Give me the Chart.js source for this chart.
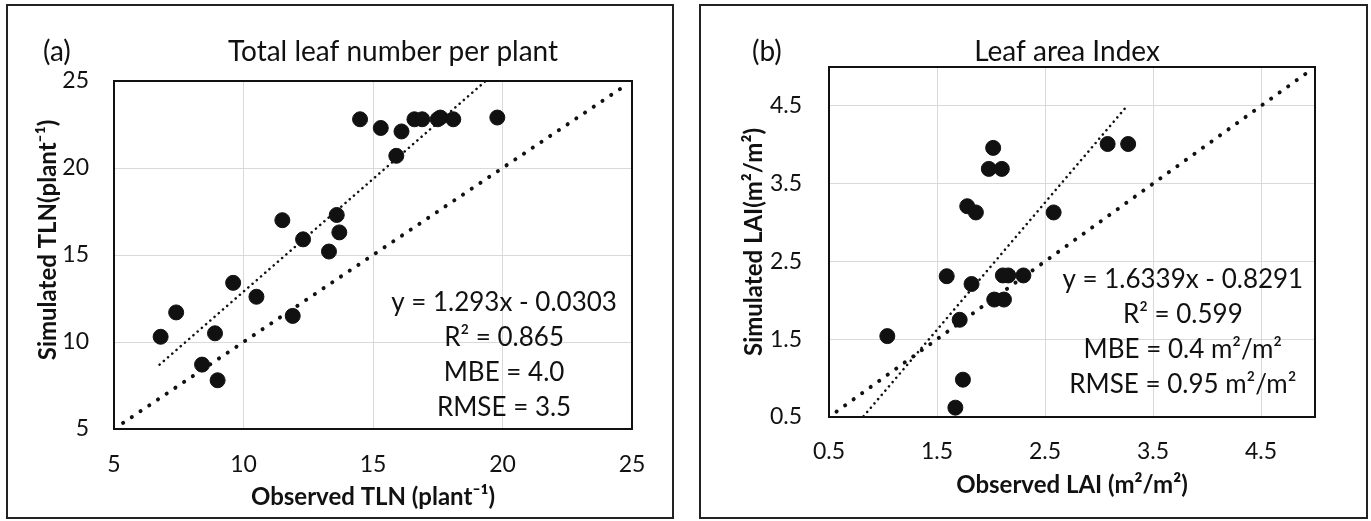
<!DOCTYPE html>
<html>
<head>
<meta charset="utf-8">
<script src="https://cdn.jsdelivr.net/npm/chart.js@4.4.1/dist/chart.umd.min.js"></script>
<style>
body { margin: 0; background: #fff; width: 1371px; height: 521px; position: relative; overflow: hidden; }
.panel { position: absolute; top: 4px; border: 2px solid #222; background: #fff; }
#pa { left: 6px; width: 664px; height: 511px; }
#pb { left: 699px; width: 665px; height: 511px; }
canvas { display: block; }
</style>
</head>
<body>
<div class="panel" id="pa"><canvas id="tln" width="664" height="511"></canvas></div>
<div class="panel" id="pb"><canvas id="lai" width="665" height="511"></canvas></div>
<script>
const FONT = "Lato, 'Open Sans', sans-serif";

// (a) total leaf number per plant
const tlnObs = [6.8, 7.4, 8.9, 8.4, 9.0, 9.6, 10.5, 11.5, 11.9, 12.3, 13.3, 13.6, 13.7, 14.5, 15.3, 15.9, 16.1, 16.6, 16.9, 17.5, 17.6, 18.1, 19.8];
const tlnSim = [10.3, 11.7, 10.5, 8.7, 7.8, 13.4, 12.6, 17.0, 11.5, 15.9, 15.2, 17.3, 16.3, 22.8, 22.3, 20.7, 22.1, 22.8, 22.8, 22.8, 22.9, 22.8, 22.9];
const tlnTrendX = [6.76, 19.35];
const tlnTrendY = [8.7, 25.0];
const tlnOneOne = [5.35, 24.75];
const tlnTicks = [5, 10, 15, 20, 25];
const tlnStats = ['y = 1.293x - 0.0303', 'R\u00b2 = 0.865', 'MBE = 4.0', 'RMSE = 3.5'];

// (b) leaf area index
const laiObs = [1.04, 1.59, 1.67, 1.74, 1.71, 1.82, 1.78, 1.86, 1.98, 2.02, 2.10, 2.03, 2.12, 2.11, 2.16, 2.30, 2.58, 3.08, 3.27];
const laiSim = [1.54, 2.31, 0.62, 0.98, 1.75, 2.21, 3.21, 3.13, 3.69, 3.96, 3.69, 2.01, 2.01, 2.32, 2.32, 2.32, 3.13, 4.01, 4.01];
const laiTrendX = [0.82, 3.26];
const laiTrendY = [0.51, 4.5];
const laiOneOne = [0.57, 4.96];
const laiTicks = [0.5, 1.5, 2.5, 3.5, 4.5];
const laiStats = ['y = 1.6339x - 0.8291', 'R\u00b2 = 0.599', 'MBE = 0.4 m\u00b2/m\u00b2', 'RMSE = 0.95 m\u00b2/m\u00b2'];

function pts(xs, ys) {
    return xs.map((x, i) => ({ x: x, y: ys[i] }));
}

function panelPlugin(p) {
    return {
        id: 'panel',
        beforeDatasetsDraw(chart) {
            const { ctx, chartArea: a } = chart;
            ctx.save();
            ctx.strokeStyle = '#111';
            ctx.lineWidth = 2;
            ctx.strokeRect(a.left, a.top, a.right - a.left, a.bottom - a.top);
            ctx.restore();
        },
        afterDraw(chart) {
            const { ctx, chartArea: a } = chart;
            ctx.save();
            ctx.fillStyle = '#111';
            ctx.textBaseline = 'middle';
            ctx.font = '28px ' + FONT;
            ctx.textAlign = 'left';
            ctx.fillText(p.tag, p.tagX, 46);
            ctx.textAlign = 'center';
            ctx.fillText(p.title, p.titleX, 46);
            ctx.font = '26px ' + FONT;
            const sx = a.left + p.statsX * (a.right - a.left);
            p.stats.forEach((s, i) => ctx.fillText(s, sx, p.statsY + i * 35));
            // y axis title, Excel puts it a little off centre
            ctx.font = 'bold 24px ' + FONT;
            ctx.translate(p.yTitleX, (a.top + a.bottom) / 2 + p.yTitleShift);
            ctx.rotate(-Math.PI / 2);
            ctx.fillText(p.yTitle, 0, 0);
            ctx.restore();
        }
    };
}

function makeChart(id, p) {
    const tickFont = { family: FONT, size: 23 };
    const titleFont = { family: FONT, size: 24, weight: 'bold' };
    const config = {
        type: 'scatter',
        data: {
            datasets: [{
                data: pts(p.trendX, p.trendY),
                showLine: true,
                borderColor: '#111',
                borderWidth: 2.5,
                borderDash: [0.1, 5.5],
                borderCapStyle: 'round',
                pointRadius: 0
            }, {
                data: pts(p.oneOne, p.oneOne),
                showLine: true,
                borderColor: '#111',
                borderWidth: 4,
                borderDash: [0.1, 10.4],
                borderCapStyle: 'round',
                pointRadius: 0
            }, {
                data: pts(p.obs, p.sim),
                backgroundColor: '#111',
                borderColor: '#111',
                borderWidth: 1,
                pointRadius: 7.5
            }]
        },
        options: {
            responsive: false,
            animation: false,
            layout: { padding: { top: p.padTop, right: p.padRight, left: 0, bottom: 0 } },
            plugins: { legend: { display: false }, tooltip: { enabled: false } },
            scales: {
                x: {
                    type: 'linear',
                    min: p.min,
                    max: p.max,
                    afterBuildTicks: s => { s.ticks = p.ticks.map(v => ({ value: v })); },
                    afterFit: s => { s.height = p.xHeight; },
                    grid: { color: '#d9d9d9', lineWidth: 1, drawTicks: false },
                    border: { display: false },
                    ticks: { font: tickFont, color: '#111', padding: p.xTickPad, maxRotation: 0, callback: v => String(v) },
                    title: { display: true, text: p.xTitle, font: titleFont, color: '#111', padding: { top: 0, bottom: p.xTitlePad } }
                },
                y: {
                    type: 'linear',
                    min: p.min,
                    max: p.max,
                    afterBuildTicks: s => { s.ticks = p.ticks.map(v => ({ value: v })); },
                    afterFit: s => { s.width = p.yWidth; },
                    grid: { color: '#d9d9d9', lineWidth: 1, drawTicks: false },
                    border: { display: false },
                    ticks: { font: tickFont, color: '#111', padding: p.yTickPad, callback: v => String(v) },
                    title: { display: false }
                }
            }
        },
        plugins: [panelPlugin(p)]
    };
    return new Chart(document.getElementById(id), config);
}

makeChart('tln', {
    obs: tlnObs, sim: tlnSim, trendX: tlnTrendX, trendY: tlnTrendY, oneOne: tlnOneOne,
    ticks: tlnTicks, min: 5, max: 25, stats: tlnStats,
    tag: '(a)', tagX: 35, title: 'Total leaf number per plant', titleX: 385,
    statsX: 0.753, statsY: 297,
    xTitle: 'Observed TLN (plant\u207b\u00b9)', yTitle: 'Simulated TLN(plant\u207b\u00b9)',
    yTitleX: 40, yTitleShift: -15,
    padTop: 75, padRight: 40, xHeight: 88, yWidth: 106,
    xTickPad: 22, yTickPad: 25, xTitlePad: 5.6
});

makeChart('lai', {
    obs: laiObs, sim: laiSim, trendX: laiTrendX, trendY: laiTrendY, oneOne: laiOneOne,
    ticks: laiTicks, min: 0.5, max: 5, stats: laiStats,
    tag: '(b)', tagX: 51, title: 'Leaf area Index', titleX: 366,
    statsX: 0.728, statsY: 274,
    xTitle: 'Observed LAI (m\u00b2/m\u00b2)', yTitle: 'Simulated LAI(m\u00b2/m\u00b2)',
    yTitleX: 53, yTitleShift: 0,
    padTop: 61, padRight: 51, xHeight: 100, yWidth: 128,
    xTickPad: 21, yTickPad: 27, xTitlePad: 17.6
});
</script>
</body>
</html>
